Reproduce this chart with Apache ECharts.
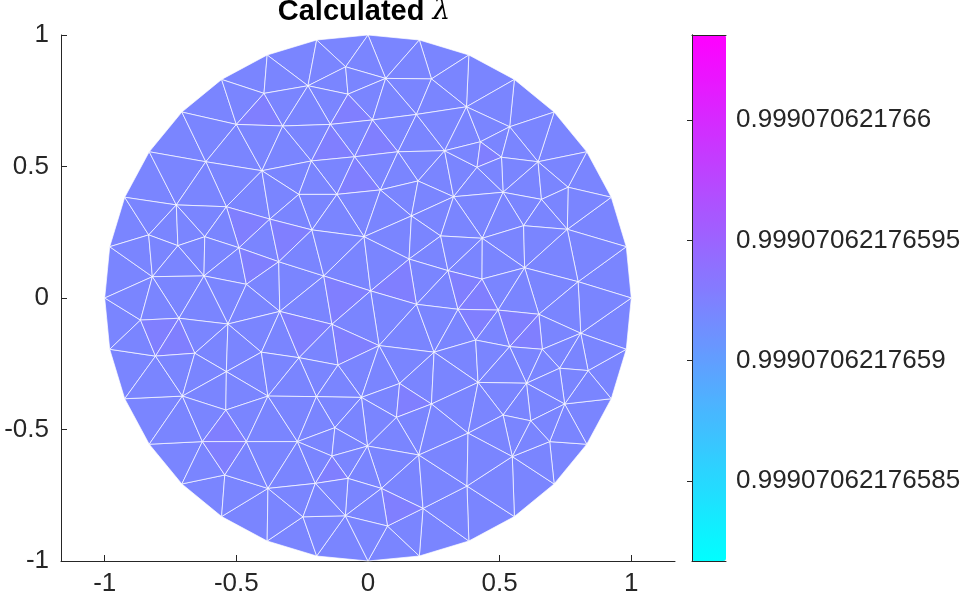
<!DOCTYPE html>
<html>
<head>
<meta charset="utf-8">
<script src="https://cdn.jsdelivr.net/npm/echarts@6/dist/echarts.min.js"></script>
<style>
  html, body { margin: 0; padding: 0; background: #fff; }
  #main { width: 965px; height: 605px; }
</style>
</head>
<body>
<div id="main"></div>
<script>
// mesh nodes on the rim of the disc
var boundaryNodes = [
  [1.000, 0.000], [0.981, 0.195], [0.924, 0.383], [0.831, 0.556], [0.707, 0.707], [0.556, 0.831], [0.383, 0.924], [0.195, 0.981],
  [0.000, 1.000], [-0.195, 0.981], [-0.383, 0.924], [-0.556, 0.831], [-0.707, 0.707], [-0.831, 0.556], [-0.924, 0.383], [-0.981, 0.195],
  [-1.000, 0.000], [-0.981, -0.195], [-0.924, -0.383], [-0.831, -0.556], [-0.707, -0.707], [-0.556, -0.831], [-0.383, -0.924], [-0.195, -0.981],
  [0.000, -1.000], [0.195, -0.981], [0.383, -0.924], [0.556, -0.831], [0.707, -0.707], [0.831, -0.556], [0.924, -0.383], [0.981, -0.195]
]

// mesh nodes inside the disc
var innerNodes = [
  [-0.395, 0.778], [-0.500, 0.660], [-0.616, 0.518], [-0.403, 0.484], [-0.728, 0.354], [-0.538, 0.347],
  [-0.085, 0.879], [-0.228, 0.807], [0.067, 0.835], [0.241, 0.833], [-0.076, 0.775], [-0.324, 0.654],
  [-0.143, 0.660], [0.017, 0.677], [0.184, 0.698], [-0.051, 0.537], [-0.215, 0.521], [0.114, 0.556],
  [0.291, 0.560], [0.190, 0.445], [-0.263, 0.394], [-0.118, 0.394], [0.047, 0.411], [0.325, 0.385],
  [0.374, 0.727], [0.538, 0.651], [0.427, 0.594], [0.507, 0.535], [0.646, 0.518], [0.414, 0.497],
  [0.513, 0.402], [0.659, 0.375], [0.760, 0.421],
  [-0.373, 0.300], [-0.833, 0.240], [-0.722, 0.199], [-0.620, 0.233], [-0.490, 0.191], [-0.819, 0.081],
  [-0.623, 0.084], [-0.462, 0.052], [-0.339, 0.138], [-0.864, -0.084], [-0.718, -0.077], [-0.532, -0.099],
  [-0.335, -0.051], [-0.807, -0.221], [-0.658, -0.210], [-0.405, -0.206], [-0.538, -0.280], [-0.213, 0.259],
  [-0.015, 0.233], [0.165, 0.312], [0.276, 0.236], [-0.168, 0.084], [0.156, 0.148], [0.304, 0.104],
  [0.010, 0.027], [0.184, -0.024], [-0.137, -0.100], [0.042, -0.181], [0.251, -0.206], [-0.262, -0.227],
  [-0.114, -0.255], [0.120, -0.325], [0.434, 0.227], [0.591, 0.275], [0.757, 0.261], [0.595, 0.115],
  [0.433, 0.072], [0.798, 0.062], [0.342, -0.043], [0.494, -0.046], [0.649, -0.062], [0.808, -0.134],
  [0.409, -0.160], [0.538, -0.185], [0.662, -0.195], [0.728, -0.267], [0.836, -0.276], [0.418, -0.321],
  [0.602, -0.324],
  [-0.705, -0.373], [-0.540, -0.426], [-0.380, -0.373], [-0.629, -0.546], [-0.462, -0.546], [-0.544, -0.673],
  [-0.380, -0.724], [-0.196, -0.375], [-0.025, -0.378], [0.241, -0.403], [0.108, -0.454], [-0.126, -0.493],
  [-0.268, -0.546], [-0.002, -0.563], [0.193, -0.597], [-0.137, -0.601], [-0.076, -0.686], [-0.200, -0.705],
  [0.051, -0.724], [0.209, -0.800], [-0.247, -0.832], [-0.086, -0.828], [0.074, -0.867], [0.747, -0.403],
  [0.513, -0.445], [0.618, -0.467], [0.380, -0.514], [0.690, -0.546], [0.548, -0.603], [0.376, -0.715]
]

// calculated lambda: most elements share one value, a few are a touch higher
var lambdaBase = 0.9990706217659217
var lambdaHigh = 0.9990706217659262
var highSpots = [
  [-0.408, 0.698], [-0.067, 0.704], [0.027, 0.590], [-0.136, 0.573], [-0.040, 0.448], [0.449, 0.542],
  [-0.467, 0.279], [-0.430, 0.127], [-0.796, -0.127], [-0.728, -0.169], [-0.309, 0.232], [-0.098, 0.004],
  [0.117, 0.050], [-0.245, -0.126], [-0.070, -0.179], [0.360, 0.044], [0.423, -0.005], [0.415, -0.083],
  [0.561, -0.098], [0.617, -0.148], [-0.544, -0.506], [-0.545, -0.589], [0.156, -0.394], [-0.137, -0.664],
  [0.111, -0.797]
]

// colour limits and colorbar ticks
var cLim = [0.9990706217658167, 0.9990706217660354]
var cbTickLabels = ['0.99907062176585', '0.9990706217659', '0.99907062176595', '0.999070621766']
var xTicks = [-1, -0.5, 0, 0.5, 1]

// values are 1e-14 apart, so work relative to a reference
var REF = 0.9990706217658
function off(v) {
  return Math.round((v - REF) * 1e14 * 1000) / 1000
}
var cbTickValues = cbTickLabels.map(function (s) { return off(parseFloat(s)) })

// Delaunay triangulation (Bowyer-Watson, cavity grown from the containing triangle)
function inCircle(a, b, c, p) {
  var ax = a[0] - p[0], ay = a[1] - p[1]
  var bx = b[0] - p[0], by = b[1] - p[1]
  var cx = c[0] - p[0], cy = c[1] - p[1]
  return (ax * ax + ay * ay) * (bx * cy - cx * by) -
    (bx * bx + by * by) * (ax * cy - cx * ay) +
    (cx * cx + cy * cy) * (ax * by - bx * ay) > 1e-12
}
function cross(a, b, p) {
  return (b[0] - a[0]) * (p[1] - a[1]) - (b[1] - a[1]) * (p[0] - a[0])
}
function shareEdge(s, t) {
  var c = 0
  for (var k = 0; k < 3; k++) if (t.indexOf(s[k]) >= 0) c++
  return c === 2
}
function delaunay(pts) {
  var n = pts.length
  var P = pts.concat([[-1000, -1000], [1000, -1000], [0, 1000]])
  var tris = [[n, n + 1, n + 2]]
  for (var i = 0; i < n; i++) {
    var p = P[i]
    var bad = tris.map(function (t) { return inCircle(P[t[0]], P[t[1]], P[t[2]], p) })
    var seed = -1
    for (var j = 0; j < tris.length && seed < 0; j++) {
      var t = tris[j]
      if (cross(P[t[0]], P[t[1]], p) >= -1e-12 && cross(P[t[1]], P[t[2]], p) >= -1e-12 &&
        cross(P[t[2]], P[t[0]], p) >= -1e-12) seed = j
    }
    var inCav = tris.map(function () { return false })
    inCav[seed] = true
    var stack = [seed]
    while (stack.length) {
      var a = tris[stack.pop()]
      for (var m = 0; m < tris.length; m++) {
        if (!inCav[m] && bad[m] && shareEdge(a, tris[m])) {
          inCav[m] = true
          stack.push(m)
        }
      }
    }
    var edges = [], keep = []
    tris.forEach(function (t, m) {
      if (!inCav[m]) { keep.push(t); return }
      for (var k = 0; k < 3; k++) edges.push([t[k], t[(k + 1) % 3]])
    })
    var rim = edges.filter(function (e) {
      return !edges.some(function (f) { return f[0] === e[1] && f[1] === e[0] })
    })
    tris = keep.concat(rim.map(function (e) { return [e[0], e[1], i] }))
  }
  return tris.filter(function (t) { return t[0] < n && t[1] < n && t[2] < n })
}

var nodes = boundaryNodes.concat(innerNodes)
var tris = delaunay(nodes)

function inside(t, p) {
  var s = []
  for (var k = 0; k < 3; k++) s.push(cross(nodes[t[k]], nodes[t[(k + 1) % 3]], p))
  return (s[0] >= 0 && s[1] >= 0 && s[2] >= 0) || (s[0] <= 0 && s[1] <= 0 && s[2] <= 0)
}

var meshData = tris.map(function (t, i) {
  var cx = (nodes[t[0]][0] + nodes[t[1]][0] + nodes[t[2]][0]) / 3
  var cy = (nodes[t[0]][1] + nodes[t[1]][1] + nodes[t[2]][1]) / 3
  var hi = highSpots.some(function (p) { return inside(t, p) })
  return [i, off(hi ? lambdaHigh : lambdaBase), cx, cy]
})

var axisColor = '#262626'
var labelFont = { fontFamily: 'Liberation Sans', fontSize: 26, color: axisColor }

var chart = echarts.init(document.getElementById('main'))

var option = {
  animation: false,
  backgroundColor: '#fff',
  title: {
    text: '{b|Calculated }{l|λ}',
    left: 364,
    top: -3,
    padding: 0,
    textAlign: 'center',
    textStyle: {
      rich: {
        b: { fontFamily: 'Liberation Sans', fontWeight: 'bold', fontSize: 29, color: '#000' },
        l: { fontFamily: 'DejaVu Serif', fontStyle: 'italic', fontWeight: 'normal', fontSize: 28, color: '#000' }
      }
    }
  },
  grid: [
    { left: 61, top: 35, width: 614, height: 526 },
    { left: 692, top: 35, width: 34, height: 526 }
  ],
  xAxis: [{
    gridIndex: 0, type: 'value', min: -1.166, max: 1.166,
    axisLine: { show: true, onZero: false, lineStyle: { color: axisColor, width: 1 } },
    axisTick: { show: true, inside: true, length: 6, customValues: xTicks, lineStyle: { color: axisColor } },
    axisLabel: Object.assign({ customValues: xTicks, margin: 10 }, labelFont),
    splitLine: { show: false }
  }, {
    gridIndex: 1, type: 'value', min: 0, max: 1, position: 'bottom', z: 10,
    axisLine: { show: true, lineStyle: { color: axisColor, width: 1 } },
    axisTick: { show: false }, axisLabel: { show: false }, splitLine: { show: false }
  }, {
    gridIndex: 1, type: 'value', min: 0, max: 1, position: 'top', z: 10,
    axisLine: { show: true, lineStyle: { color: axisColor, width: 1 } },
    axisTick: { show: false }, axisLabel: { show: false }, splitLine: { show: false }
  }],
  yAxis: [{
    gridIndex: 0, type: 'value', min: -1, max: 1, interval: 0.5,
    axisLine: { show: true, onZero: false, lineStyle: { color: axisColor, width: 1 } },
    axisTick: { show: true, inside: true, length: 6, lineStyle: { color: axisColor } },
    axisLabel: Object.assign({ margin: 12 }, labelFont),
    splitLine: { show: false }
  }, {
    gridIndex: 1, type: 'value', min: off(cLim[0]), max: off(cLim[1]), position: 'right', z: 10,
    axisLine: { show: true, lineStyle: { color: axisColor, width: 1 } },
    axisTick: { show: true, inside: true, length: 5, customValues: cbTickValues, lineStyle: { color: axisColor } },
    axisLabel: Object.assign({
      customValues: cbTickValues,
      margin: 10,
      formatter: function (v) {
        var best = 0
        cbTickValues.forEach(function (t, k) {
          if (Math.abs(t - v) < Math.abs(cbTickValues[best] - v)) best = k
        })
        return cbTickLabels[best]
      }
    }, labelFont),
    splitLine: { show: false }
  }, {
    gridIndex: 1, type: 'value', min: off(cLim[0]), max: off(cLim[1]), position: 'left', z: 10,
    axisLine: { show: true, lineStyle: { color: axisColor, width: 1 } },
    axisTick: { show: false }, axisLabel: { show: false }, splitLine: { show: false }
  }],
  visualMap: {
    type: 'continuous',
    seriesIndex: 0,
    dimension: 1,
    min: off(cLim[0]),
    max: off(cLim[1]),
    calculable: false,
    hoverLink: false,
    orient: 'vertical',
    left: 692,
    top: 35,
    padding: 0,
    itemWidth: 34,
    itemHeight: 526,
    inRange: { color: ['#00ffff', '#ff00ff'] }
  },
  series: [{
    type: 'custom',
    coordinateSystem: 'cartesian2d',
    xAxisIndex: 0,
    yAxisIndex: 0,
    encode: { x: 2, y: 3 },
    clip: false,
    silent: true,
    data: meshData,
    renderItem: function (params, api) {
      var t = tris[api.value(0)]
      var pts = t.map(function (k) { return api.coord(nodes[k]) })
      return {
        type: 'polygon',
        shape: { points: pts },
        style: {
          fill: api.visual('color'),
          stroke: 'rgba(255,255,255,0.68)',
          lineWidth: 1
        }
      }
    }
  }]
}

chart.setOption(option)
</script>
</body>
</html>
